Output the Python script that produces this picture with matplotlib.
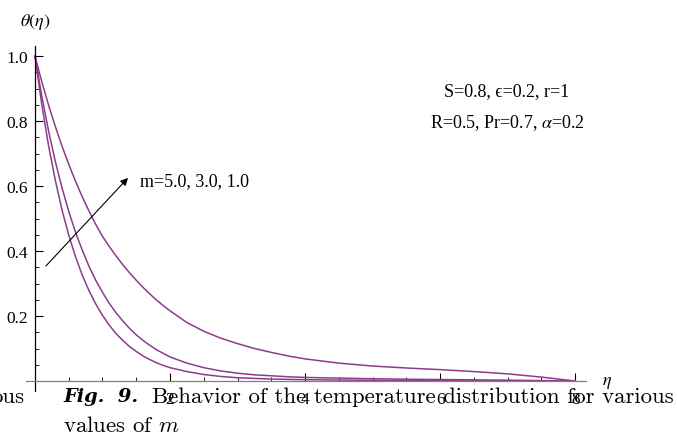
import matplotlib
matplotlib.use("Agg")
import matplotlib.pyplot as plt
from matplotlib.ticker import MultipleLocator, FixedLocator

# eta grid and theta(eta) values, one series per m
eta = [0, 0.1, 0.2, 0.3, 0.4, 0.5, 0.6, 0.7, 0.8, 0.9, 1.0,
       1.1, 1.2, 1.3, 1.4, 1.5, 1.6, 1.7, 1.8, 1.9, 2.0,
       2.25, 2.5, 2.75, 3.0, 3.25, 3.5, 3.75, 4.0,
       4.5, 5.0, 5.5, 6.0, 6.5, 7.0, 7.5, 8.0]
theta_m5 = [1.0, 0.852, 0.726, 0.619, 0.527, 0.449, 0.383, 0.326, 0.278, 0.237, 0.202,
            0.172, 0.146, 0.125, 0.106, 0.091, 0.077, 0.066, 0.056, 0.048, 0.041,
            0.029, 0.020, 0.014, 0.010, 0.008, 0.006, 0.005, 0.004,
            0.003, 0.002, 0.0015, 0.001, 0.0008, 0.0005, 0.0003, 0.0]
theta_m3 = [1.0, 0.878, 0.771, 0.677, 0.595, 0.522, 0.458, 0.403, 0.353, 0.310, 0.273,
            0.239, 0.210, 0.185, 0.162, 0.142, 0.125, 0.110, 0.096, 0.085, 0.074,
            0.055, 0.041, 0.031, 0.024, 0.019, 0.016, 0.013, 0.011,
            0.009, 0.007, 0.0055, 0.0045, 0.0035, 0.0025, 0.0013, 0.0]
theta_m1 = [1.0, 0.922, 0.850, 0.784, 0.723, 0.667, 0.615, 0.567, 0.523, 0.482, 0.445,
            0.414, 0.385, 0.358, 0.333, 0.310, 0.288, 0.268, 0.249, 0.232, 0.216,
            0.180, 0.153, 0.132, 0.115, 0.100, 0.088, 0.077, 0.068,
            0.055, 0.046, 0.040, 0.035, 0.029, 0.022, 0.012, 0.0]
series = [theta_m5, theta_m3, theta_m1]

y_major = [0.2, 0.4, 0.6, 0.8, 1.0]
x_major = [2, 4, 6, 8]

W, H = 677, 435
plt.rcParams["font.family"] = ["Liberation Serif", "DejaVu Serif"]
plt.rcParams["mathtext.fontset"] = "cm"

fig = plt.figure(figsize=(W / 100, H / 100), dpi=100)
ax = fig.add_axes([25.5 / W, (H - 391.75) / H, 560.5 / W, 344.5 / H])
ax.set_xlim(-0.14, 8.16)
ax.set_ylim(-0.03, 1.03)

line_color = "#8c3c8c"
for th in series:
    ax.plot(eta, th, color=line_color, lw=1.1, solid_joinstyle="round")

for s in ["top", "right"]:
    ax.spines[s].set_visible(False)
ax.spines["left"].set_position(("data", 0))
ax.spines["bottom"].set_position(("data", 0))
ax.spines["left"].set_color("black")
ax.spines["bottom"].set_color("#808080")
ax.spines["left"].set_linewidth(0.9)
ax.spines["bottom"].set_linewidth(0.9)

ax.yaxis.set_major_locator(FixedLocator(y_major))
ax.yaxis.set_minor_locator(MultipleLocator(0.05))
ax.xaxis.set_major_locator(FixedLocator(x_major))
ax.xaxis.set_minor_locator(MultipleLocator(0.5))
ax.set_yticklabels([f"{v:.1f}" for v in y_major])
ax.set_xticklabels([str(v) for v in x_major])
ax.tick_params(axis="both", which="major", direction="in", length=5.5,
               width=0.8, labelsize=12.5, pad=5)
ax.tick_params(axis="both", which="minor", direction="in", length=3,
               width=0.6)
ax.tick_params(axis="x", which="major", pad=7)


def px(x, y):
    return x / W, (H - y) / H


# axis labels
fig.text(*px(35.5, 22), r"$\theta(\eta)$", ha="center", va="center",
         fontsize=13, math_fontfamily="stix")
fig.text(*px(607, 383), r"$\eta$", ha="center", va="center",
         fontsize=13, math_fontfamily="stix")

# parameter notes
fig.text(*px(507, 92), "S=0.8, \u03f5=0.2, r=1", ha="center",
         va="center", fontsize=13)
fig.text(*px(507, 123), r"R=0.5, Pr=0.7, $\alpha$=0.2", ha="center",
         va="center", fontsize=13, math_fontfamily="stix")
fig.text(*px(140, 182), "m=5.0, 3.0, 1.0", ha="left", va="center",
         fontsize=13)

# arrow for increasing m
arrow_tail = (0.163, 0.354)
arrow_head = (1.378, 0.625)
ax.annotate("", xy=arrow_head, xytext=arrow_tail,
            arrowprops=dict(arrowstyle="-|>", color="black", lw=0.8,
                            mutation_scale=11, shrinkA=0, shrinkB=0))

# caption from the page, overlapping the tick labels
renderer = fig.canvas.get_renderer()


def fit(t, width):
    w = t.get_window_extent(renderer).width
    t.set_fontsize(t.get_fontsize() * width / w)


cap_fig = fig.text(*px(63, 397), "Fig.  9.", ha="left", va="center",
                   fontsize=13, family="DejaVu Serif", weight="bold",
                   style="italic")
fit(cap_fig, 75)
cap_rest = fig.text(*px(152, 397),
                    "Behavior of the temperature distribution for various",
                    ha="left", va="center", fontsize=13, family="cmr10")
fit(cap_rest, 524)
fs = cap_rest.get_fontsize()
fig.text(*px(63, 426), "values of $m$", ha="left", va="center",
         fontsize=fs, family="cmr10")
fig.text(*px(24, 397), "ous", ha="right", va="center", fontsize=fs,
         family="cmr10")

fig.savefig("out.png", dpi=100)
